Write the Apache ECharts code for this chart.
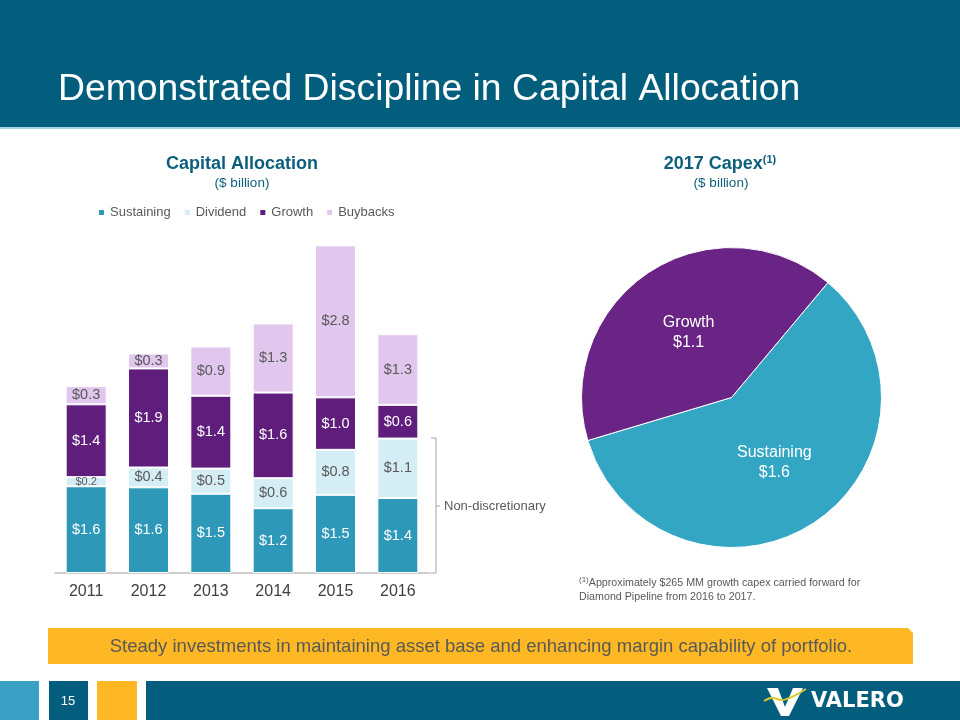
<!DOCTYPE html>
<html>
<head>
<meta charset="utf-8">
<script src="https://cdn.jsdelivr.net/npm/echarts@6/dist/echarts.min.js"></script>
<style>html,body{margin:0;padding:0;background:#fff;}#c{width:960px;height:720px;}</style>
</head>
<body>
<div id="c"></div>
<script>
// ---- data ----
var years = ['2011', '2012', '2013', '2014', '2015', '2016'];
var seriesNames = ['Sustaining', 'Dividend', 'Growth', 'Buybacks'];
var sustaining = [1.62, 1.60, 1.48, 1.21, 1.46, 1.40];
var dividend = [0.17, 0.37, 0.47, 0.56, 0.84, 1.11];
var growth = [1.36, 1.85, 1.36, 1.60, 0.98, 0.63];
var buybacks = [0.34, 0.28, 0.92, 1.29, 2.84, 1.32];
var pieNames = ['Sustaining', 'Growth'];
var pieValues = [1.6, 1.1];

var FONT = '"Liberation Sans", Arial, sans-serif';
var barColors = ['#2d98b8', '#d5eef5', '#5f1d7c', '#e1c6ee'];
var labelColors = ['#ffffff', '#595959', '#ffffff', '#595959'];
var pieColors = ['#33a6c4', '#6a2485'];
var values = [sustaining, dividend, growth, buybacks];

var chart = echarts.init(document.getElementById('c'), null, {renderer: 'canvas'});

var barSeries = seriesNames.map(function (name, i) {
  return {
    name: name,
    type: 'bar',
    stack: 'total',
    barWidth: 41,
    itemStyle: {color: barColors[i], borderColor: '#ffffff', borderWidth: 1},
    label: {
      show: true,
      position: 'inside',
      color: labelColors[i],
      fontSize: 14.5,
      fontFamily: FONT,
      formatter: function (p) { return '$' + p.value.toFixed(1); }
    },
    data: values[i].map(function (v) {
      return v < 0.25 ? {value: v, label: {fontSize: 11}} : v;
    })
  };
});

var option = {
  backgroundColor: '#ffffff',
  animation: false,
  textStyle: {fontFamily: FONT},
  legend: {
    data: seriesNames,
    left: 92,
    top: 201,
    icon: 'rect',
    itemWidth: 7,
    itemHeight: 7,
    itemGap: 12,
    textStyle: {fontSize: 13, color: '#595959', fontFamily: FONT}
  },
  grid: {left: 55, right: 531, top: 241, bottom: 147},
  xAxis: {
    type: 'category',
    data: years,
    axisLine: {lineStyle: {color: '#bfbfbf', width: 1.5}},
    axisTick: {show: false},
    axisLabel: {fontSize: 16, color: '#404040', margin: 11, fontFamily: FONT}
  },
  yAxis: {type: 'value', min: 0, max: 6.2, show: false, splitLine: {show: false}},
  series: barSeries.concat([{
    type: 'pie',
    center: [731.5, 397.5],
    radius: 150,
    startAngle: 50,
    clockwise: true,
    silent: true,
    itemStyle: {borderColor: '#ffffff', borderWidth: 1},
    label: {
      show: true,
      position: 'inside',
      color: '#ffffff',
      fontSize: 16,
      lineHeight: 20,
      fontFamily: FONT,
      formatter: function (p) { return p.name + '\n$' + p.value.toFixed(1); }
    },
    labelLine: {show: false},
    data: pieNames.map(function (n, i) {
      return {name: n, value: pieValues[i], itemStyle: {color: pieColors[i]}};
    })
  }]),
  graphic: [
    // header
    {type: 'rect', shape: {x: 0, y: 0, width: 960, height: 127}, style: {fill: '#035e7d'}, z: -1},
    {type: 'rect', shape: {x: 0, y: 127, width: 960, height: 2}, style: {fill: '#a8d4e2'}, z: -1},
    {type: 'text', left: 58, top: 71, style: {text: 'Demonstrated Discipline in Capital Allocation', fill: '#ffffff', font: '37.3px ' + FONT}},
    // chart titles
    {type: 'text', x: 242, y: 164, style: {text: 'Capital Allocation', fill: '#0d5f7b', font: 'bold 18px ' + FONT, align: 'center', verticalAlign: 'middle'}},
    {type: 'text', x: 242, y: 183, style: {text: '($ billion)', fill: '#0d5f7b', font: '13.5px ' + FONT, align: 'center', verticalAlign: 'middle'}},
    {type: 'text', x: 720, y: 164, style: {
      text: '{a|2017 Capex}{s|(1)}', align: 'center', verticalAlign: 'middle',
      rich: {
        a: {fill: '#0d5f7b', font: 'bold 18px ' + FONT, lineHeight: 20},
        s: {fill: '#0d5f7b', font: 'bold 11px ' + FONT, verticalAlign: 'top', lineHeight: 20, padding: [0, 0, 8, 0]}
      }
    }},
    {type: 'text', x: 721, y: 183, style: {text: '($ billion)', fill: '#0d5f7b', font: '13.5px ' + FONT, align: 'center', verticalAlign: 'middle'}},
    // non-discretionary bracket
    {type: 'polyline', shape: {points: [[431, 438], [436, 438], [436, 573], [430, 573]]}, style: {stroke: '#a6a6a6', lineWidth: 1, fill: null}},
    {type: 'line', shape: {x1: 436, y1: 506, x2: 440, y2: 506}, style: {stroke: '#a6a6a6', lineWidth: 1}},
    {type: 'text', x: 444, y: 506, style: {text: 'Non-discretionary', fill: '#595959', font: '13px ' + FONT, verticalAlign: 'middle'}},
    // footnote
    {type: 'text', x: 579, y: 583, style: {
      text: '{s|(1)}{t|Approximately $265 MM growth capex carried forward for}',
      verticalAlign: 'middle',
      rich: {
        s: {fill: '#595959', font: '8px ' + FONT, verticalAlign: 'top', lineHeight: 14, padding: [0, 0, 4, 0]},
        t: {fill: '#595959', font: '10.7px ' + FONT, lineHeight: 14}
      }
    }},
    {type: 'text', x: 579, y: 597, style: {text: 'Diamond Pipeline from 2016 to 2017.', fill: '#595959', font: '10.7px ' + FONT, verticalAlign: 'middle'}},
    // banner
    {type: 'polygon', shape: {points: [[48, 628], [908, 628], [913, 633], [913, 664], [48, 664]]}, style: {fill: '#fdb823'}},
    {type: 'text', x: 481, y: 647, style: {text: 'Steady investments in maintaining asset base and enhancing margin capability of portfolio.', fill: '#595959', font: '18.5px ' + FONT, align: 'center', verticalAlign: 'middle'}},
    // footer
    {type: 'rect', shape: {x: 0, y: 681, width: 39, height: 39}, style: {fill: '#3aa0c4'}},
    {type: 'rect', shape: {x: 49, y: 681, width: 39, height: 39}, style: {fill: '#035e7d'}},
    {type: 'text', x: 68, y: 701, style: {text: '15', fill: '#ffffff', font: '13px ' + FONT, align: 'center', verticalAlign: 'middle'}},
    {type: 'rect', shape: {x: 97, y: 681, width: 40, height: 39}, style: {fill: '#fdb823'}},
    {type: 'rect', shape: {x: 146, y: 681, width: 814, height: 39}, style: {fill: '#035e7d'}},
    // logo mark
    {type: 'polygon', shape: {points: [[767, 688], [778, 688], [785, 707], [793, 688], [803, 688], [789, 716], [781, 716]]}, style: {fill: '#ffffff'}},
    {type: 'bezierCurve', shape: {x1: 764, y1: 701, x2: 806, y2: 689, cpx1: 782, cpy1: 690, cpx2: 770, cpy2: 712}, style: {stroke: '#d9c92c', lineWidth: 2, fill: null}},
    {type: 'text', x: 811, y: 702, style: {text: 'VALERO', fill: '#ffffff', font: 'bold 21px "DejaVu Sans", sans-serif', verticalAlign: 'middle'}}
  ]
};
chart.setOption(option);
</script>
</body>
</html>
